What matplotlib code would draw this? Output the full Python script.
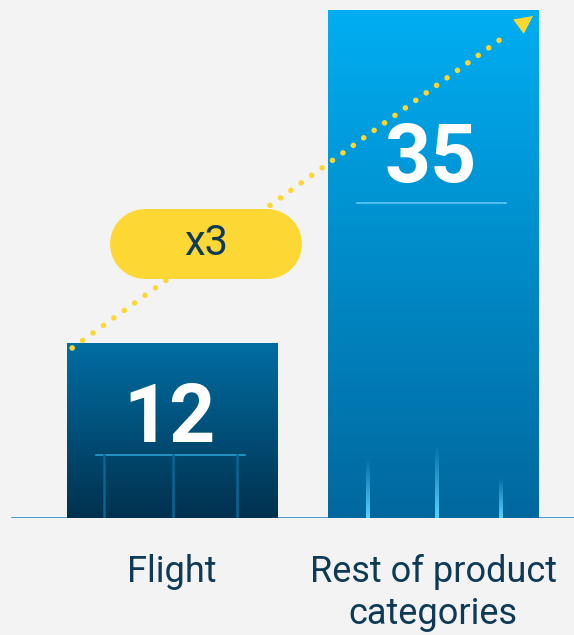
import numpy as np
import matplotlib.pyplot as plt
from matplotlib.colors import LinearSegmentedColormap

categorias = ['Flight', 'Rest of product\ncategories']
valores = [12, 35]
rotulos = ['12', '35']
multiplicador = 'x3'

plt.rcParams['font.family'] = ['Roboto', 'DejaVu Sans']

COR_FUNDO = '#f3f3f3'
COR_TEXTO = '#0e3a56'
COR_AMARELO = '#fdd631'
CORES_BARRAS = [('#006ea3', '#00314e'), ('#00aef2', '#00689e')]
LARGURA = 0.805

fig = plt.figure(figsize=(5.74, 6.35), dpi=100, facecolor=COR_FUNDO)
ax = fig.add_axes([0, 117 / 635, 1, 518 / 635])
ax.set_facecolor(COR_FUNDO)

x = np.arange(len(categorias))
barras = ax.bar(x, valores, width=LARGURA, color='none', zorder=2)

# gradiente vertical dentro de cada barra
grad = np.linspace(0, 1, 256).reshape(-1, 1)
for barra, (topo, base) in zip(barras, CORES_BARRAS):
    x0, w, h = barra.get_x(), barra.get_width(), barra.get_height()
    cmap = LinearSegmentedColormap.from_list('g', [topo, base])
    ax.imshow(grad, extent=[x0, x0 + w, 0, h], cmap=cmap, aspect='auto',
              origin='upper', zorder=2)

# linha de base
ax.axhline(0, xmin=12 / 574, xmax=1, color='#1a7db8', lw=1.8, zorder=1)

# numeros dentro das barras
pos_num = [valores[0] - 6.76, valores[1] - 11.84]
pos_sep = [valores[0] - 7.66, valores[1] - 13.3]
cores_sep = ['#2a9fd0', '#62c9f4']
for i, (rot, yn, ys, cs) in enumerate(zip(rotulos, pos_num, pos_sep, cores_sep)):
    ax.text(x[i] - 0.008, yn, rot, color='white', fontsize=58, fontweight='bold',
            ha='center', va='baseline', zorder=5)
    ax.plot([x[i] - 0.29, x[i] + 0.28], [ys, ys], color=cs, lw=1.2, zorder=3)

# linhas verticais decorativas (barra 1)
for dx in [-0.26, 0.004, 0.25]:
    ax.plot([x[0] + dx, x[0] + dx], [0, pos_sep[0]], color='#0a6596', lw=1.8, zorder=3)

# linhas brilhantes (barra 2), mais fortes embaixo
alturas_brilho = [4.0, 5.0, 2.8]
brilho = np.zeros((128, 1, 4))
brilho[..., 0] = 91 / 255
brilho[..., 1] = 212 / 255
brilho[..., 2] = 1.0
brilho[:, 0, 3] = np.linspace(0, 1, 128)
for dx, hb in zip([-0.25, 0.015, 0.26], alturas_brilho):
    ax.imshow(brilho, extent=[x[1] + dx - 0.006, x[1] + dx + 0.006, 0, hb],
              aspect='auto', origin='upper', zorder=3)

# seta pontilhada
ini = (x[0] - LARGURA / 2 + 0.02, valores[0] - 0.28)
fim = (x[1] + 0.287, valores[1] - 1.64)
ponta = (x[1] + 0.383, valores[1] - 0.4)
ax.plot([ini[0], fim[0]], [ini[1], fim[1]], color=COR_AMARELO, lw=4.0,
        linestyle=(0, (0.01, 2.3)), dash_capstyle='round', zorder=4)
ax.annotate('', xy=ponta, xytext=(x[1] + 0.33, valores[1] - 1.1),
            arrowprops=dict(arrowstyle='-|>,head_length=0.65,head_width=0.32',
                            mutation_scale=20, color=COR_AMARELO, lw=0,
                            shrinkA=0, shrinkB=0), zorder=4)

# pilula com o multiplicador
cx, cy = 0.13, 18.9
ax.plot([cx - 0.232, cx + 0.232], [cy, cy], color='#fdd835', lw=50.4,
        solid_capstyle='round', zorder=6)
ax.text(cx, cy, multiplicador, color=COR_TEXTO, fontsize=30, ha='center',
        va='center', zorder=7)

ax.set_xlim(-0.659, 1.540)
ax.set_ylim(0, 35.7)
ax.set_xticks(x, categorias)
ax.set_yticks([])
ax.tick_params(axis='x', length=0, pad=26, labelsize=26, labelcolor=COR_TEXTO)
for lbl in ax.get_xticklabels():
    lbl.set_linespacing(1.22)
for s in ax.spines.values():
    s.set_visible(False)

fig.savefig('out.png', dpi=100, facecolor=COR_FUNDO)
